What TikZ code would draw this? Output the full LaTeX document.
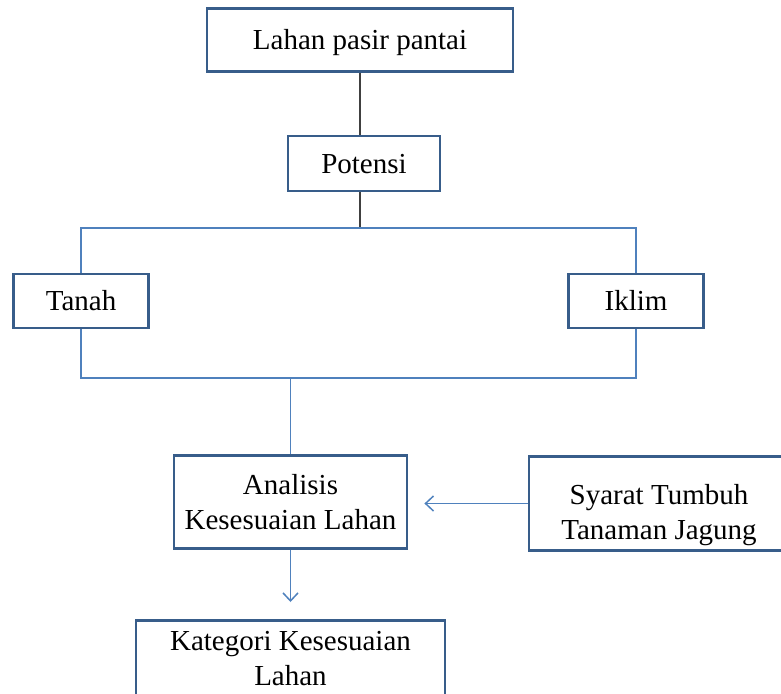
\documentclass[tikz,border=0pt]{standalone}
\usepackage{fontspec}
\setmainfont{Liberation Serif}
\usetikzlibrary{arrows.meta}
\definecolor{boxblue}{RGB}{56,93,138}
\definecolor{lineblue}{RGB}{79,129,189}

\begin{document}
\begin{tikzpicture}[
    x=1pt, y=-1pt,
    box/.style={draw=boxblue, line width=2.8pt, fill=white, align=center, inner sep=4pt, font=\fontsize{29}{35}\selectfont},
    item/.style={box, text height=19.5pt, text depth=0pt},
    stem/.style={line width=1.5pt, black!75},
    bus/.style={line width=1.5pt, lineblue},
    flow/.style={bus, -{Straight Barb[length=8pt, width=15pt]}},
  ]
    \useasboundingbox (0,0) rectangle (781,693);
    \clip (0,0) rectangle (781,693);

    % Nodes
    \node[item, minimum width=306pt, minimum height=63pt] (lahan) at (360,40) {Lahan pasir pantai};
    \node[item, minimum width=152pt, minimum height=55pt] (potensi) at (364,163.5) {Potensi};
    \node[item, minimum width=135pt, minimum height=54pt] (tanah) at (81,301) {Tanah};
    \node[item, minimum width=135pt, minimum height=54pt] (iklim) at (636,301) {Iklim};
    \node[box, minimum width=233pt, minimum height=93pt] (analisis) at (290.5,502) {Analisis\\Kesesuaian Lahan};
    \node[box, minimum width=260pt, minimum height=91pt] (syarat) at (659,503.5) {\rule{0pt}{44pt}Syarat Tumbuh\\Tanaman Jagung};
    \node[box, anchor=north, minimum width=309pt, inner ysep=11pt] (kategori) at (290.5,619) {Kategori Kesesuaian\\Lahan};

    % Bus points
    \coordinate (bustop) at (360,228);
    \coordinate (busbot) at (290.5,378);

    % Potensi branch
    \draw[stem] (lahan.south) -- (lahan.south |- potensi.north);
    \draw[stem] (lahan.south |- potensi.south) -- (bustop);
    \draw[bus] (tanah.north) |- (bustop) -| (iklim.north);
    \draw[bus] (tanah.south) |- (busbot) -| (iklim.south);

    % Analysis flow
    \draw[bus] (busbot) -- (analisis.north);
    \draw[flow, shorten >=17pt] (analisis.south) -- (kategori.north);
    \draw[flow, shorten >=16pt] (syarat.west) -- (syarat.west -| analisis.east);
\end{tikzpicture}
\end{document}
